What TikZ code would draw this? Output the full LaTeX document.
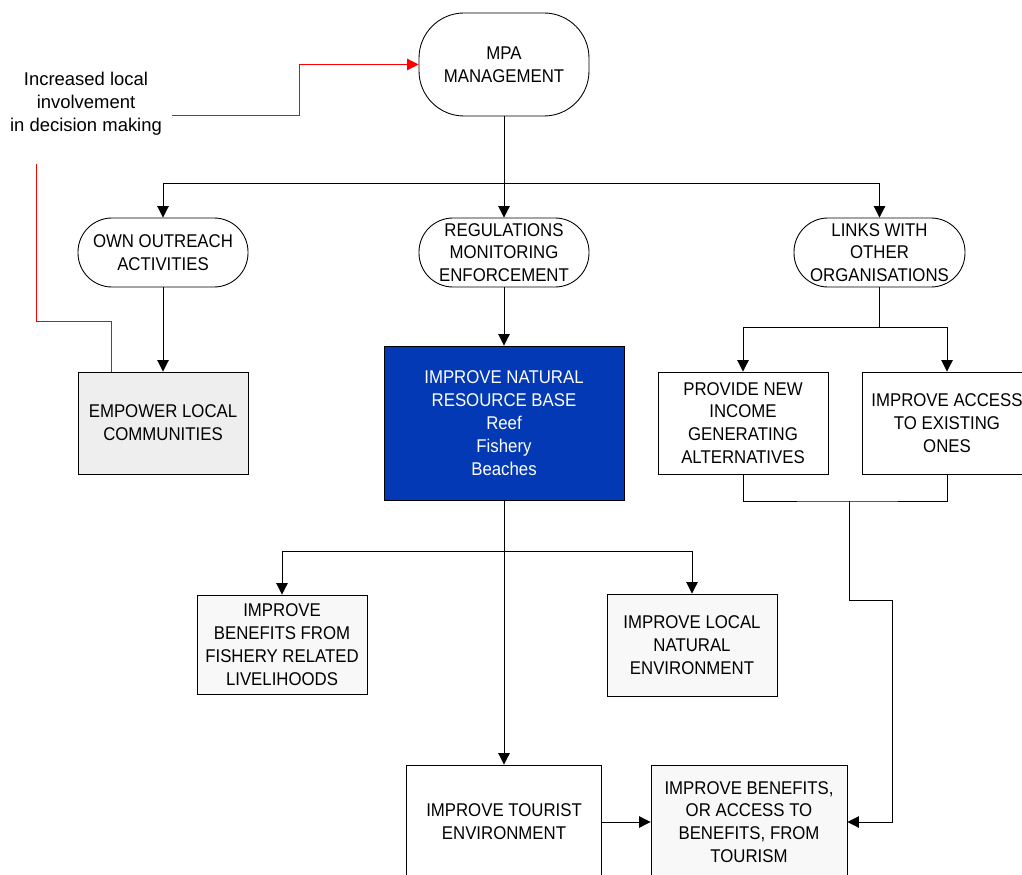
\documentclass[tikz,border=0pt]{standalone}
\usepackage{fontspec}
\setmainfont{Liberation Sans}
\newfontfamily\boxfont[FakeStretch=0.91]{Liberation Sans}
\usetikzlibrary{arrows.meta}
\definecolor{reefblue}{HTML}{0339B4}
\definecolor{panelgray}{HTML}{EEEEEE}
\definecolor{palegray}{HTML}{F8F8F8}
\begin{document}
\begin{tikzpicture}[>={Triangle[length=6.5pt,width=6.5pt]},line width=0.5pt,
  txt/.style={font=\boxfont\fontsize{10.5}{13}\selectfont,align=center,inner sep=0pt},
  stadium/.style={txt,draw,rounded corners=0.68cm,minimum width=3.4cm,minimum height=1.38cm},
  panel/.style={txt,draw,minimum width=3.4cm,minimum height=2.04cm}]
\useasboundingbox (0,0) rectangle (20.44,-17.5);
\clip (0,0) rectangle (20.44,-17.5);
% top of the tree
\node[stadium,rounded corners=0.9cm,minimum height=2.06cm] (mpa) at (10.08,-1.29) {MPA\\MANAGEMENT};
\node[txt,font=\fontsize{10.5}{13}\selectfont] (involve) at (1.72,-2.07) {Increased local\\involvement\\in decision making};
\node[stadium] (outreach) at (3.26,-5.05) {OWN OUTREACH\\ACTIVITIES};
\node[stadium] (regs) at (10.08,-5.05) {REGULATIONS\\MONITORING\\ENFORCEMENT};
\node[stadium,minimum width=3.42cm] (links) at (17.59,-5.05) {LINKS WITH\\OTHER\\ORGANISATIONS};
% second row
\node[panel,fill=panelgray] (empower) at (3.26,-8.46) {EMPOWER LOCAL\\COMMUNITIES};
\node[panel,fill=reefblue,text=white,minimum width=4.8cm,minimum height=3.08cm] (resource) at (10.08,-8.46) {IMPROVE NATURAL\\RESOURCE BASE\\Reef\\Fishery\\Beaches};
\node[panel] (income) at (14.86,-8.46) {PROVIDE NEW\\INCOME\\GENERATING\\ALTERNATIVES};
\node[panel] (access) at (18.94,-8.46) {IMPROVE ACCESS\\TO EXISTING\\ONES};
% lower boxes
\node[panel,fill=palegray,minimum height=1.98cm] (fishery) at (5.64,-12.89) {IMPROVE\\BENEFITS FROM\\FISHERY RELATED\\LIVELIHOODS};
\node[panel,fill=palegray] (localenv) at (13.84,-12.9) {IMPROVE LOCAL\\NATURAL\\ENVIRONMENT};
\node[panel,minimum width=3.9cm,minimum height=2.28cm] (tourist) at (10.08,-16.44) {IMPROVE TOURIST\\ENVIRONMENT};
\node[panel,fill=palegray,minimum width=3.92cm,minimum height=2.28cm] (tourism) at (14.98,-16.44) {IMPROVE BENEFITS,\\OR ACCESS TO\\BENEFITS, FROM\\TOURISM};
% junctions
\coordinate (split) at (10.08,-3.66);
\coordinate (linksplit) at (17.59,-6.54);
\coordinate (merge) at (16.98,-10.02);
\coordinate (turn) at (17.84,-12.0);
\coordinate (basesplit) at (10.08,-11.02);
\coordinate (redstart) at (3.44,-2.31);
\coordinate (redstep) at (5.98,-1.29);
\coordinate (redtop) at (0.72,-3.28);
% connectors
\draw (mpa) -- (split);
\draw[->] (split) -| (outreach);
\draw[->] (split) -- (regs);
\draw[->] (split) -| (links);
\draw[->] (outreach) -- (empower);
\draw[->] (regs) -- (resource);
\draw (links) -- (linksplit);
\draw[->] (linksplit) -| (income);
\draw[->] (linksplit) -| (access);
\draw (income.south) |- (merge) -| (access.south);
\draw[->] (merge) |- (turn) |- (tourism);
\draw (resource) -- (basesplit);
\draw[->] (basesplit) -| (fishery);
\draw[->] (basesplit) -| (localenv);
\draw[->] (basesplit) -- (tourist);
\draw[->] (tourist) -- (tourism);
% red feedback
\draw[red,->] (redstart) -| (redstep) -- (mpa);
\draw[red] (redtop) |- ([xshift=-1.04cm]empower.north |- 0,-6.42) -- ([xshift=-1.04cm]empower.north);
\end{tikzpicture}
\end{document}
